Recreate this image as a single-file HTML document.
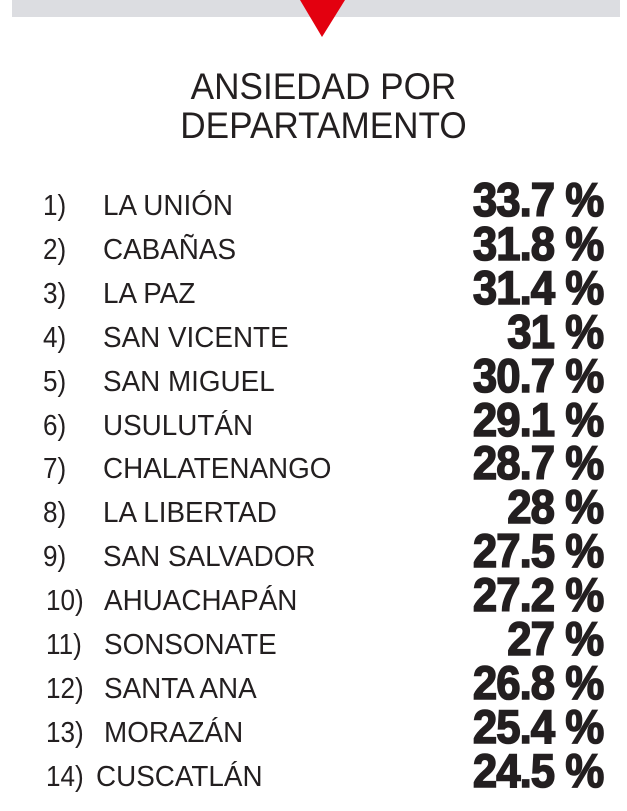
<!DOCTYPE html>
<html><head><meta charset="utf-8"><style>
body{margin:0;width:627px;height:811px;background:#fff;position:relative;overflow:hidden;font-family:"Liberation Sans",sans-serif;color:#231f20}
.bar{position:absolute;left:12px;top:0;width:608px;height:17px;background:#dcdde1}
.t{position:absolute;left:10px;width:627px;text-align:center;font-size:37px;line-height:1;transform:scaleX(0.95);transform-origin:50% 0}
.r{position:absolute;left:0;width:627px;height:44px}
.n{position:absolute;left:43px;font-size:29px;top:0;transform:scaleX(0.9);transform-origin:left}
.nm{position:absolute;left:103px;font-size:29px;top:0;transform:scaleX(0.96);transform-origin:left;white-space:nowrap}
.v{position:absolute;right:24px;top:-18px;font-weight:bold;font-size:47px;-webkit-text-stroke:1.6px #231f20;transform:scaleX(0.93);transform-origin:right center;letter-spacing:-1px;white-space:nowrap}
</style></head><body>
<div class="bar"></div>
<svg style="position:absolute;left:0;top:0" width="627" height="40"><polygon points="300,0 345,0 322,37" fill="#e3000f"/></svg>
<div class="t" style="top:68px">ANSIEDAD POR</div>
<div class="t" style="top:107px">DEPARTAMENTO</div>
<div class="r" style="top:190px"><span class="n">1)</span><span class="nm">LA UNIÓN</span><span class="v">33.7 %</span></div>
<div class="r" style="top:234px"><span class="n">2)</span><span class="nm">CABAÑAS</span><span class="v">31.8 %</span></div>
<div class="r" style="top:278px"><span class="n">3)</span><span class="nm">LA PAZ</span><span class="v">31.4 %</span></div>
<div class="r" style="top:322px"><span class="n">4)</span><span class="nm">SAN VICENTE</span><span class="v">31 %</span></div>
<div class="r" style="top:366px"><span class="n">5)</span><span class="nm">SAN MIGUEL</span><span class="v">30.7 %</span></div>
<div class="r" style="top:410px"><span class="n">6)</span><span class="nm">USULUTÁN</span><span class="v">29.1 %</span></div>
<div class="r" style="top:453px"><span class="n">7)</span><span class="nm">CHALATENANGO</span><span class="v">28.7 %</span></div>
<div class="r" style="top:497px"><span class="n">8)</span><span class="nm">LA LIBERTAD</span><span class="v">28 %</span></div>
<div class="r" style="top:541px"><span class="n">9)</span><span class="nm">SAN SALVADOR</span><span class="v">27.5 %</span></div>
<div class="r" style="top:585px"><span class="n" style="left:46px">10)</span><span class="nm" style="left:104px">AHUACHAPÁN</span><span class="v">27.2 %</span></div>
<div class="r" style="top:629px"><span class="n" style="left:46px">11)</span><span class="nm" style="left:104px">SONSONATE</span><span class="v">27 %</span></div>
<div class="r" style="top:673px"><span class="n" style="left:46px">12)</span><span class="nm" style="left:104px">SANTA ANA</span><span class="v">26.8 %</span></div>
<div class="r" style="top:717px"><span class="n" style="left:46px">13)</span><span class="nm" style="left:104px">MORAZÁN</span><span class="v">25.4 %</span></div>
<div class="r" style="top:761px"><span class="n" style="left:46px">14)</span><span class="nm" style="left:96px">CUSCATLÁN</span><span class="v">24.5 %</span></div>
</body></html>
